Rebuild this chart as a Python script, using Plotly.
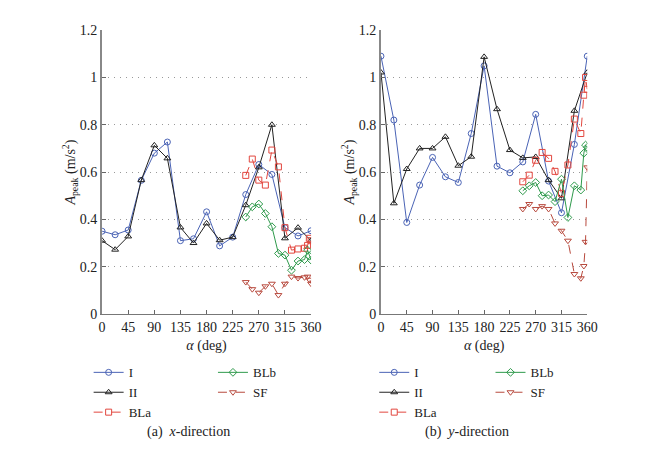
import plotly.graph_objects as go

# ---------------------------------------------------------------------
# Data
# ---------------------------------------------------------------------
ANG = [0, 22.5, 45, 67.5, 90, 112.5, 135, 157.5, 180, 202.5, 225,
       247.5, 270, 292.5, 315, 337.5, 360]
ANG_B = [247.5, 258.75, 270, 281.25, 292.5, 303.75, 315, 326.25,
         337.5, 348.75, 354, 357, 360]

# (a) x-direction
I_X = [0.35, 0.335, 0.355, 0.565, 0.68, 0.727, 0.31, 0.318, 0.432, 0.288, 0.325,
       0.505, 0.632, 0.59, 0.365, 0.33, 0.352]
II_X = [0.31, 0.272, 0.328, 0.566, 0.713, 0.658, 0.366, 0.3, 0.383, 0.312, 0.325,
        0.46, 0.62, 0.80, 0.32, 0.365, 0.31]
BLA_X = [0.586, 0.655, 0.566, 0.545, 0.693, 0.622, 0.365, 0.27, 0.275, 0.278,
         0.29, 0.32, 0.31]
BLB_X = [0.41, 0.453, 0.465, 0.425, 0.369, 0.256, 0.249, 0.185, 0.224, 0.23,
         0.27, 0.245, 0.228]
SF_X = [0.135, 0.105, 0.09, 0.117, 0.128, 0.08, 0.128, 0.158, 0.152, 0.155,
        0.158, 0.145, 0.128]

# (b) y-direction
I_Y = [1.09, 0.82, 0.387, 0.545, 0.662, 0.58, 0.556, 0.763, 1.049, 0.625, 0.597,
       0.643, 0.844, 0.562, 0.428, 0.717, 1.09]
II_Y = [1.021, 0.468, 0.613, 0.70, 0.70, 0.749, 0.627, 0.665, 1.087, 0.866, 0.693,
        0.66, 0.664, 0.566, 0.489, 0.859, 1.021]
BLA_Y = [0.559, 0.587, 0.65, 0.683, 0.658, 0.603, 0.51, 0.63, 0.824, 0.763,
         0.925, 1.0, 0.95]
BLB_Y = [0.521, 0.542, 0.556, 0.50, 0.503, 0.475, 0.57, 0.408, 0.542, 0.524,
         0.68, 0.714, 0.705]
SF_Y = [0.444, 0.465, 0.444, 0.456, 0.444, 0.383, 0.352, 0.31, 0.169, 0.151,
        0.203, 0.305, 0.62]

X_TICKS = [0, 45, 90, 135, 180, 225, 270, 315, 360]
Y_TICKS = [0, 0.2, 0.4, 0.6, 0.8, 1, 1.2]

FONT = "Liberation Serif"
BLUE = "#4a63b5"
BLACK = "#222222"
RED = "#e2473f"
GREEN = "#2f9a4c"
BROWN = "#b84a3e"

SERIES = [
    # name, x, key, color, symbol, dash, legend column
    ("I", ANG, "I", BLUE, "circle-open", "solid", 0),
    ("II", ANG, "II", BLACK, "triangle-up-open", "solid", 0),
    ("BLa", ANG_B, "BLA", RED, "square-open", "dash", 0),
    ("BLb", ANG_B, "BLB", GREEN, "diamond-open", "solid", 1),
    ("SF", ANG_B, "SF", BROWN, "triangle-down-open", "dash", 1),
]
VALUES = {
    "x": {"I": I_X, "II": II_X, "BLA": BLA_X, "BLB": BLB_X, "SF": SF_X},
    "y": {"I": I_Y, "II": II_Y, "BLA": BLA_Y, "BLB": BLB_Y, "SF": SF_Y},
}

fig = go.Figure()

for panel, (xa, ya, legs) in enumerate([("x", "y", ("legend", "legend2")),
                                         ("x2", "y2", ("legend3", "legend4"))]):
    vals = VALUES["x" if panel == 0 else "y"]
    for name, xs, key, color, symbol, dash, col in SERIES:
        fig.add_trace(go.Scatter(
            x=xs, y=vals[key], name=name, mode="lines+markers",
            xaxis=xa, yaxis=ya, legend=legs[col],
            line=dict(color=color, width=1, dash=dash),
            marker=dict(symbol=symbol, size=6, color=color,
                        line=dict(width=1, color=color)),
        ))

axis_x = dict(range=[0, 360], tickvals=X_TICKS, ticks="inside", ticklen=4,
              tickcolor="#666", showline=True, linecolor="#777", linewidth=1.2,
              showgrid=False, zeroline=False, automargin=False,
              tickfont=dict(family=FONT, size=14, color="#222"),
              title=dict(text="<i>α</i> (deg)", standoff=6,
                         font=dict(family=FONT, size=14, color="#222")))
axis_y = dict(range=[0, 1.2], tickvals=Y_TICKS, ticks="inside", ticklen=4,
              tickcolor="#666", showline=True, linecolor="#888", linewidth=2,
              showgrid=True, gridcolor="#999999", griddash="1px,5px", gridwidth=1,
              zeroline=False, automargin=False,
              tickfont=dict(family=FONT, size=14, color="#222"),
              title=dict(text="<i>A</i><sub>peak</sub> (m/s<sup>2</sup>)",
                         font=dict(family=FONT, size=14, color="#222")))

legend_common = dict(xanchor="left", yanchor="top", bgcolor="rgba(0,0,0,0)",
                     borderwidth=0, font=dict(family=FONT, size=13, color="#222"),
                     itemwidth=30, tracegroupgap=0)

fig.update_layout(
    width=672, height=452,
    margin=dict(l=0, r=0, t=0, b=0, autoexpand=False),
    paper_bgcolor="white", plot_bgcolor="white",
    xaxis=dict(domain=[0.14, 0.451], anchor="y", **axis_x),
    yaxis=dict(domain=[0.323, 0.951], anchor="x", **axis_y),
    xaxis2=dict(domain=[0.555, 0.862], anchor="y2", **axis_x),
    yaxis2=dict(domain=[0.323, 0.951], anchor="x2", **axis_y),
    legend=dict(x=0.12, y=0.227, **legend_common),
    legend2=dict(x=0.305, y=0.227, **legend_common),
    legend3=dict(x=0.545, y=0.227, **legend_common),
    legend4=dict(x=0.718, y=0.227, **legend_common),
    showlegend=True,
    annotations=[
        dict(text="(a)  <i>x</i>-direction", x=0.268, y=1 - 424 / 452,
             xref="paper", yref="paper", xanchor="center", yanchor="middle",
             showarrow=False, font=dict(family=FONT, size=14, color="#222")),
        dict(text="(b)  <i>y</i>-direction", x=0.683, y=1 - 424 / 452,
             xref="paper", yref="paper", xanchor="center", yanchor="middle",
             showarrow=False, font=dict(family=FONT, size=14, color="#222")),
    ],
)
fig.layout.yaxis.title.standoff = 0
fig.layout.yaxis2.title.standoff = 1

fig.write_html("out.html")
